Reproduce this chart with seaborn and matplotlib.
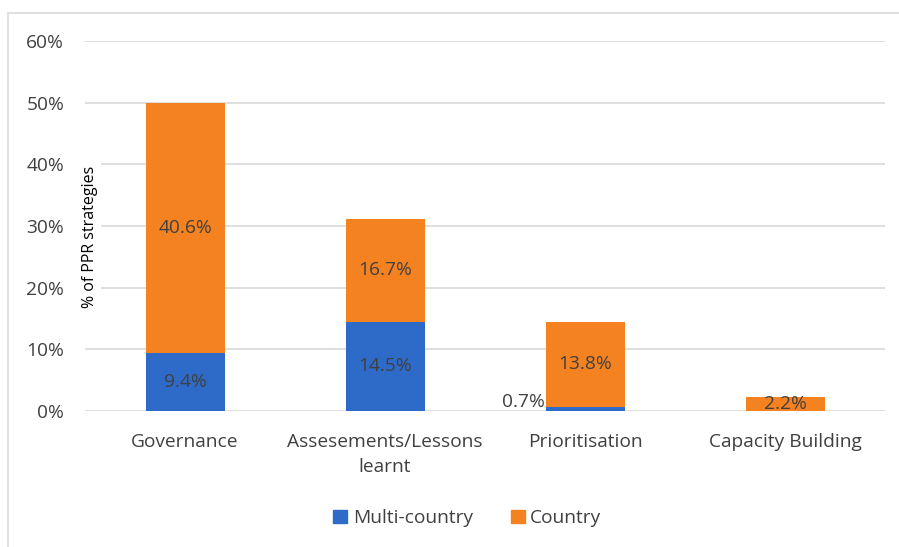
import matplotlib.pyplot as plt
import matplotlib.patches as mpatches
import seaborn as sns
import pandas as pd

sns.set_theme()
sns.set_style("white")
plt.rcParams['font.family'] = ['Open Sans', 'DejaVu Sans']

# Data
categories = ["Governance", "Assesements/Lessons\nlearnt", "Prioritisation", "Capacity Building"]
multi_country = [9.4, 14.5, 0.7, 0.0]
country = [40.6, 16.7, 13.8, 2.2]
y_ticks = [0, 10, 20, 30, 40, 50, 60]

blue = "#2E6BC8"
orange = "#F58220"
text_col = "#404040"
fs = 13.8

df = pd.DataFrame({"category": categories, "Multi-country": multi_country, "Country": country})
df["total"] = df["Multi-country"] + df["Country"]

fig = plt.figure(figsize=(8.99, 5.47), dpi=100)
ax = fig.add_axes([0.0946, 0.2486, 0.89, 0.6764])

# stacked bars: total first (orange), then multi-country (blue) at the bottom
sns.barplot(data=df, x="category", y="total", color=orange, width=0.395,
            saturation=1, linewidth=0, ax=ax, zorder=3)
sns.barplot(data=df, x="category", y="Multi-country", color=blue, width=0.395,
            saturation=1, linewidth=0, ax=ax, zorder=3)

ax.set_xlim(-0.5, 3.5)
ax.set_ylim(0, 60)
ax.set_yticks(y_ticks)
ax.set_yticklabels([f"{t}%" for t in y_ticks], color=text_col, fontsize=fs)
ax.tick_params(axis="x", labelsize=fs, colors=text_col, length=0, pad=16)
ax.tick_params(axis="y", length=0, pad=15)
for lbl in ax.get_xticklabels():
    lbl.set_linespacing(1.45)
ax.yaxis.grid(True, color="#D9D9D9", linewidth=1.2, zorder=0)
ax.set_axisbelow(True)
sns.despine(ax=ax, left=True, bottom=True, top=True, right=True)
ax.set_xlabel("")
ax.set_ylabel("")

# data labels
for i, row in df.iterrows():
    m, c = row["Multi-country"], row["Country"]
    if m >= 2:
        ax.text(i, m / 2, f"{m:.1f}%", ha="center", va="center", fontsize=fs, color=text_col, zorder=5)
    elif m > 0:
        ax.text(i - 0.2, 0, f"{m:.1f}%", ha="right", va="bottom", fontsize=fs, color=text_col, zorder=5)
    ax.text(i, m + c / 2, f"{c:.1f}%", ha="center", va="center", fontsize=fs, color=text_col, zorder=5)

# y axis title inside the plot area
ax.text(0.006, 0.47, "% of PPR strategies", transform=ax.transAxes, rotation=90,
        ha="center", va="center", fontsize=11.5, color="black", zorder=4,
        bbox=dict(facecolor="white", edgecolor="none", pad=2))

# legend
handles = [mpatches.Patch(color=blue, label="Multi-country"),
           mpatches.Patch(color=orange, label="Country")]
fig.legend(handles=handles, loc="center", bbox_to_anchor=(0.52, 0.053), ncol=2,
           frameon=False, fontsize=fs, handlelength=0.7, handleheight=0.7,
           handletextpad=0.3, columnspacing=2.0, labelcolor=text_col)

# chart border
fig.patches.append(mpatches.Rectangle((0.009, -0.05), 1.1, 1.026, transform=fig.transFigure,
                                      fill=False, edgecolor="#D9D9D9", linewidth=1.2))

fig.savefig("out.png", dpi=100)
